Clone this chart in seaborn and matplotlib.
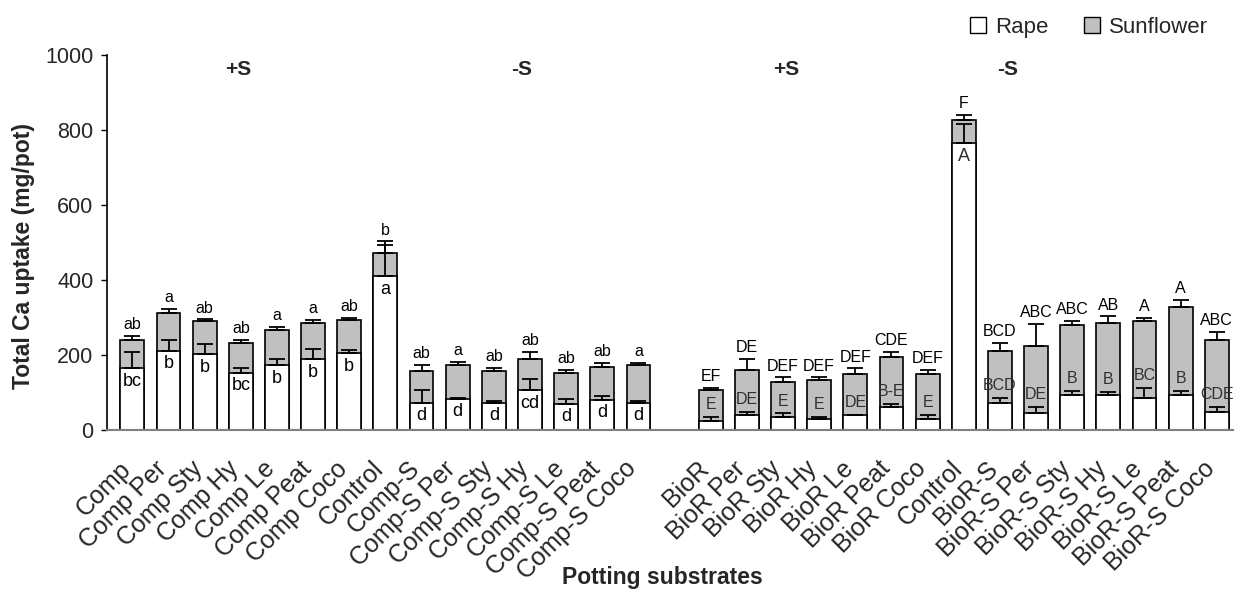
import numpy as np
import pandas as pd
import matplotlib
matplotlib.use("Agg")
import matplotlib.pyplot as plt
import matplotlib.transforms as mtransforms
import seaborn as sns
from matplotlib.patches import Patch

# ---------------- data ----------------
comp_labels = ["Comp", "Comp Per", "Comp Sty", "Comp Hy", "Comp Le", "Comp Peat", "Comp Coco",
               "Control",
               "Comp-S", "Comp-S Per", "Comp-S Sty", "Comp-S Hy", "Comp-S Le", "Comp-S Peat", "Comp-S Coco"]
bior_labels = ["BioR", "BioR Per", "BioR Sty", "BioR Hy", "BioR Le", "BioR Peat", "BioR Coco",
               "Control",
               "BioR-S", "BioR-S Per", "BioR-S Sty", "BioR-S Hy", "BioR-S Le", "BioR-S Peat", "BioR-S Coco"]

comp_total = [240, 310, 290, 231, 265, 285, 293, 472, 156, 173, 156, 189, 152, 168, 173]
comp_rape = [164, 210, 201, 151, 172, 188, 204, 409, 71, 82, 72, 105, 68, 80, 71]
comp_total_err = [11, 13, 4, 8, 8, 8, 4, 30, 17, 7, 8, 17, 8, 10, 5]
comp_rape_err = [42, 30, 26, 13, 17, 26, 9, 84, 34, 1, 5, 29, 14, 9, 6]
comp_top_letters = ["ab", "a", "ab", "ab", "a", "a", "ab", "b", "ab", "a", "ab", "ab", "ab", "ab", "a"]
comp_in_letters = ["bc", "b", "b", "bc", "b", "b", "b", "a", "d", "d", "d", "cd", "d", "d", "d"]

bior_total = [106, 160, 126, 131, 147, 193, 147, 827, 210, 222, 280, 285, 289, 326, 239]
bior_rape = [22, 38, 34, 27, 38, 60, 27, 764, 72, 43, 92, 92, 84, 92, 47]
bior_total_err = [4, 28, 13, 8, 16, 13, 12, 13, 21, 59, 9, 17, 8, 21, 21]
bior_rape_err = [12, 9, 9, 7, 1, 8, 12, 51, 12, 17, 12, 8, 26, 12, 13]
bior_top_letters = ["EF", "DE", "DEF", "DEF", "DEF", "CDE", "DEF", "F",
                    "BCD", "ABC", "ABC", "AB", "A", "A", "ABC"]
bior_in_letters = ["E", "DE", "E", "E", "DE", "B-E", "E", "A",
                   "BCD", "DE", "B", "B", "BC", "B", "CDE"]

group_titles = ["+S", "-S", "+S", "-S"]

# ---------------- build table ----------------
comp_ids = [f"c{i}" for i in range(len(comp_labels))]
bior_ids = [f"b{i}" for i in range(len(bior_labels))]
order = comp_ids + ["gap"] + bior_ids
tick_labels = comp_labels + [""] + bior_labels

df = pd.DataFrame({
    "slot": comp_ids + bior_ids,
    "label": comp_labels + bior_labels,
    "total": comp_total + bior_total,
    "rape": comp_rape + bior_rape,
    "total_err": comp_total_err + bior_total_err,
    "rape_err": comp_rape_err + bior_rape_err,
    "top": comp_top_letters + bior_top_letters,
    "inner": comp_in_letters + bior_in_letters,
    "half": ["comp"] * len(comp_ids) + ["bior"] * len(bior_ids),
})
pos = {s: i for i, s in enumerate(order)}
df["x"] = df["slot"].map(pos)

# ---------------- style ----------------
sns.set_style("white")
plt.rcParams["font.family"] = ["Liberation Sans", "DejaVu Sans"]
NARROW = ["Liberation Sans Narrow", "Liberation Sans", "DejaVu Sans"]

GRAY = "#c0c0c0"
fig = plt.figure(figsize=(12.42, 5.93), dpi=100)
ax = fig.add_axes([0.0862, 0.2757, 0.9928 - 0.0862, 0.9073 - 0.2757])

sns.barplot(data=df, x="slot", y="total", order=order, color=GRAY, saturation=1,
            edgecolor="black", linewidth=1.2, width=0.66, errorbar=None, ax=ax)
sns.barplot(data=df, x="slot", y="rape", order=order, color="white", saturation=1,
            edgecolor="black", linewidth=1.2, width=0.66, errorbar=None, ax=ax)

# error bars (upper only)
ax.errorbar(df["x"], df["total"], yerr=[np.zeros(len(df)), df["total_err"]],
            fmt="none", ecolor="black", elinewidth=1.3, capsize=5.5, capthick=1.3, zorder=5)
ax.errorbar(df["x"], df["rape"], yerr=[np.zeros(len(df)), df["rape_err"]],
            fmt="none", ecolor="black", elinewidth=1.3, capsize=5.5, capthick=1.3, zorder=5)

# letters
for _, r in df.iterrows():
    ax.annotate(r["top"], (r["x"], r["total"] + r["total_err"]), xytext=(0, 2.8),
                textcoords="offset points", ha="center", va="bottom", fontsize=11.5, color="black")
    if r["half"] == "comp" or r["label"] == "Control":
        ax.annotate(r["inner"], (r["x"], r["rape"]), xytext=(0, -3.2),
                    textcoords="offset points", ha="center", va="top", fontsize=13,
                    family=NARROW,
                    color="black" if r["half"] == "comp" else "#303030")
    else:
        ax.annotate(r["inner"], (r["x"], r["rape"] + r["rape_err"]), xytext=(0, 3.5),
                    textcoords="offset points", ha="center", va="bottom", fontsize=11.5,
                    family=NARROW, color="#303030")

# group titles
for xt, t in zip([2.92, 10.77, 18.1, 24.2], group_titles):
    ax.text(xt, 962, t, ha="center", va="center", fontsize=15, fontweight="bold")

ax.set_ylim(0, 1000)
ax.set_yticks(np.arange(0, 1001, 200))
ax.set_xlim(-0.7, 30.45)
ax.set_xticks(range(len(order)))
ax.set_xticklabels(tick_labels, rotation=45, ha="right", va="top", rotation_mode="anchor", fontsize=18)
ax.tick_params(axis="x", length=0, pad=19.5)
shift = mtransforms.ScaledTranslation(-14 / 100, 0, fig.dpi_scale_trans)
for lab in ax.get_xticklabels():
    lab.set_transform(lab.get_transform() + shift)
ax.tick_params(axis="y", length=4, width=1, direction="out", left=True, labelsize=15.5, pad=5.8, color="black")
for s in ["top", "right"]:
    ax.spines[s].set_visible(False)
ax.spines["left"].set_color("black")
ax.spines["left"].set_linewidth(1.2)
ax.spines["bottom"].set_color("#808080")
ax.spines["bottom"].set_linewidth(1.5)

W_AX = 1233 - 107
H_AX = 429.5 - 55
ax.set_ylabel("Total Ca uptake (mg/pot)", fontsize=16.5, fontweight="bold")
ax.yaxis.set_label_coords((23 - 107) / W_AX, (429.5 - 256.5) / H_AX)
ax.yaxis.label.set_va("center")
ax.set_xlabel("Potting substrates", fontsize=16.5, fontweight="bold")
ax.xaxis.set_label_coords((662 - 107) / W_AX, -(577 - 429.5) / H_AX)
ax.xaxis.label.set_va("center")

handles = [Patch(facecolor="white", edgecolor="black", linewidth=1.0, label="Rape"),
           Patch(facecolor=GRAY, edgecolor="black", linewidth=1.0, label="Sunflower")]
fig.legend(handles=handles, loc="upper right", bbox_to_anchor=(0.985, 0.998), ncol=2,
           frameon=False, fontsize=16, handlelength=0.72, handleheight=0.72,
           handletextpad=0.4, columnspacing=1.6, borderaxespad=0.3)

fig.savefig("out.png", dpi=100)
